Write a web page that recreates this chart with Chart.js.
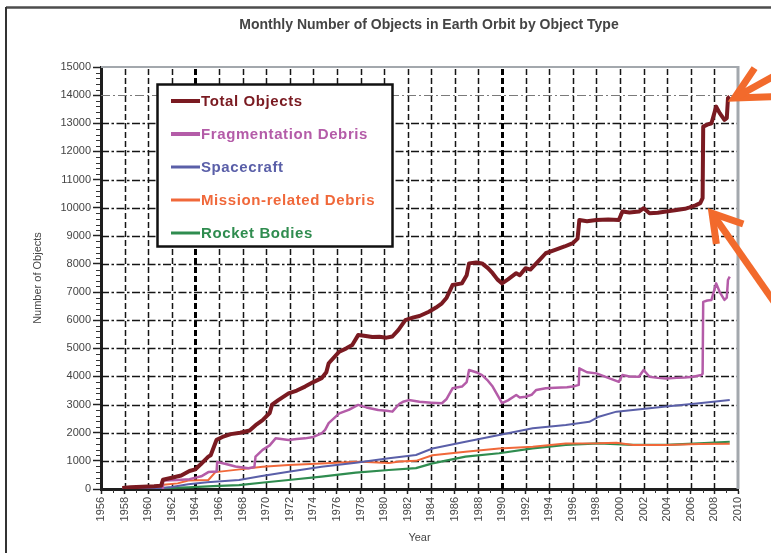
<!DOCTYPE html>
<html>
<head>
<meta charset="utf-8">
<script src="https://cdn.jsdelivr.net/npm/chart.js@4.4.1/dist/chart.umd.min.js"></script>
<style>
  html, body { margin: 0; padding: 0; background: #ffffff; }
  #wrap { width: 771px; height: 553px; position: relative; }
</style>
</head>
<body>
<div id="wrap"><canvas id="orbitChart" width="771" height="553"></canvas></div>
<script>
// ---- Catalogued objects in Earth orbit, by object type (year, count) ----
const totalYears = [1957.8, 1958.5, 1959.5, 1960.5, 1961.1, 1961.25, 1962.0, 1962.8, 1963.5, 1964.0, 1964.5, 1965.1, 1965.3, 1965.8, 1966.3, 1967.0, 1967.8, 1968.6, 1969.2, 1969.7, 1970.3, 1970.5, 1971.0, 1971.9, 1972.6, 1973.3, 1974.0, 1974.7, 1975.1, 1975.3, 1976.2, 1976.8, 1977.3, 1977.8, 1978.3, 1979.0, 1979.6, 1980.2, 1980.7, 1981.2, 1981.8, 1982.5, 1983.0, 1983.8, 1984.4, 1984.9, 1985.3, 1985.8, 1986.6, 1987.0, 1987.2, 1987.8, 1988.3, 1988.8, 1989.2, 1989.6, 1990.0, 1990.5, 1991.2, 1991.5, 1992.0, 1992.4, 1992.9, 1993.3, 1993.7, 1994.5, 1995.3, 1996.0, 1996.4, 1996.55, 1997.2, 1998.0, 1999.0, 1999.9, 2000.2, 2000.8, 2001.6, 2002.0, 2002.5, 2003.2, 2003.9, 2004.8, 2005.5, 2005.9, 2006.4, 2006.8, 2007.0, 2007.05, 2007.4, 2007.75, 2008.15, 2008.45, 2008.85, 2009.05, 2009.15, 2009.3];
const totalCounts = [40, 60, 80, 100, 120, 330, 400, 480, 640, 700, 900, 1150, 1200, 1750, 1850, 1950, 2000, 2080, 2300, 2450, 2700, 3000, 3150, 3400, 3500, 3640, 3800, 3940, 4150, 4470, 4880, 5000, 5120, 5470, 5450, 5400, 5410, 5380, 5420, 5650, 6000, 6100, 6150, 6300, 6450, 6600, 6800, 7250, 7310, 7600, 8020, 8050, 8020, 7850, 7670, 7450, 7310, 7450, 7670, 7600, 7850, 7800, 8020, 8200, 8380, 8500, 8620, 8740, 8900, 9560, 9520, 9560, 9580, 9560, 9860, 9830, 9860, 9980, 9800, 9820, 9860, 9920, 9960, 10010, 10080, 10160, 10340, 12880, 12950, 13000, 13590, 13360, 13120, 13180, 13890, 13950];

const fragYears = [1961.2, 1961.25, 1962.5, 1963.5, 1964.5, 1965.1, 1965.8, 1965.85, 1966.5, 1967.4, 1968.5, 1969.0, 1969.1, 1969.7, 1970.3, 1970.8, 1971.9, 1972.6, 1973.3, 1974.0, 1974.7, 1975.0, 1975.3, 1976.2, 1977.0, 1977.8, 1978.5, 1979.5, 1980.2, 1980.7, 1981.3, 1981.6, 1982.1, 1983.0, 1984.0, 1984.9, 1985.3, 1985.8, 1986.6, 1987.0, 1987.2, 1987.8, 1988.3, 1988.8, 1989.2, 1989.6, 1990.0, 1990.5, 1991.2, 1991.5, 1992.0, 1992.5, 1992.9, 1993.7, 1994.5, 1995.5, 1996.0, 1996.5, 1996.55, 1997.2, 1998.0, 1999.0, 1999.9, 2000.2, 2000.8, 2001.6, 2002.0, 2002.5, 2003.2, 2003.9, 2004.8, 2005.5, 2006.2, 2006.9, 2007.0, 2007.05, 2007.4, 2007.75, 2008.15, 2008.45, 2008.85, 2009.05, 2009.15, 2009.3];
const fragCounts = [0, 300, 320, 350, 450, 600, 620, 960, 900, 800, 740, 780, 1150, 1390, 1550, 1800, 1740, 1780, 1800, 1850, 1980, 2100, 2340, 2690, 2810, 2990, 2900, 2810, 2780, 2750, 3030, 3100, 3160, 3100, 3070, 3050, 3200, 3580, 3640, 3800, 4230, 4150, 4050, 3850, 3640, 3350, 3050, 3150, 3340, 3250, 3280, 3350, 3520, 3580, 3600, 3620, 3640, 3700, 4290, 4150, 4110, 3950, 3810, 4050, 4000, 3990, 4230, 3990, 3950, 3930, 3950, 3960, 3990, 4050, 4100, 6650, 6700, 6720, 7310, 7000, 6720, 6800, 7430, 7550];

const craftYears = [1957.8, 1959.0, 1960.0, 1961.0, 1962.0, 1963.4, 1965.0, 1967.7, 1969.5, 1971.9, 1974.7, 1977.6, 1980.4, 1982.7, 1984.1, 1986.9, 1989.75, 1992.6, 1995.4, 1997.4, 1998.2, 1999.7, 2001.1, 2003.9, 2006.7, 2009.3];
const craftCounts = [2, 5, 15, 30, 70, 170, 240, 320, 450, 610, 790, 935, 1090, 1210, 1440, 1680, 1920, 2160, 2275, 2390, 2570, 2750, 2810, 2930, 3050, 3160];

const missionYears = [1957.8, 1958.5, 1960.5, 1961.2, 1961.3, 1962.5, 1963.4, 1965.1, 1965.7, 1967.4, 1969.7, 1971.9, 1974.7, 1977.6, 1978.5, 1980.4, 1981.3, 1982.7, 1984.1, 1986.9, 1989.75, 1992.6, 1995.4, 1998.2, 1999.7, 2001.1, 2003.9, 2006.7, 2009.3];
const missionCounts = [5, 10, 20, 50, 150, 200, 300, 320, 600, 680, 790, 850, 910, 970, 960, 920, 980, 1000, 1200, 1320, 1440, 1500, 1620, 1625, 1645, 1565, 1565, 1600, 1610];

const rocketYears = [1957.8, 1960.0, 1961.2, 1963.4, 1965.5, 1967.7, 1969.8, 1971.9, 1974.7, 1977.6, 1980.4, 1982.7, 1984.1, 1986.9, 1989.75, 1992.6, 1995.4, 1998.2, 2001.1, 2003.9, 2006.7, 2009.3];
const rocketCounts = [10, 20, 30, 60, 100, 140, 230, 320, 440, 580, 675, 740, 910, 1150, 1270, 1445, 1565, 1625, 1565, 1565, 1625, 1680];

const seriesNames = ['Total Objects', 'Fragmentation Debris', 'Spacecraft', 'Mission-related Debris', 'Rocket Bodies'];

// Axis ranges and tick spacing
const yearMin = 1956, yearMax = 2010, yearStep = 2;
const countMin = 0, countMax = 15000, countStep = 1000, countMinorStep = 200;
const boldYears = [1964, 1990];

// Arrow call-outs anchored in data coordinates (year, count)
const calloutYears = [2009.7, 2007.8];
const calloutCounts = [13900, 9800];

const FONT = '"Liberation Sans", Arial, Helvetica, sans-serif';
const palette = ['#7a1a21', '#b45ca8', '#5a5fa8', '#f0683a', '#2f8c4f'];
const widths = [4, 2.5, 2, 2, 2.2];

function pairs(xs, ys) { return xs.map((x, i) => ({ x: x, y: ys[i] })); }

const seriesData = [
  pairs(totalYears, totalCounts),
  pairs(fragYears, fragCounts),
  pairs(craftYears, craftCounts),
  pairs(missionYears, missionCounts),
  pairs(rocketYears, rocketCounts)
];

const datasets = seriesNames.map((name, i) => ({
  label: name,
  data: seriesData[i],
  borderColor: palette[i],
  backgroundColor: palette[i],
  borderWidth: widths[i],
  pointRadius: 0,
  tension: 0,
  fill: false,
  borderJoinStyle: 'round'
}));

// Sheet frame, chart title, dashed grid, minor ticks, inner legend and arrows
const sheetPlugin = {
  id: 'sheet',
  beforeDraw(chart) {
    const ctx = chart.ctx;
    ctx.save();
    ctx.fillStyle = '#ffffff';
    ctx.fillRect(0, 0, chart.width, chart.height);
    ctx.strokeStyle = '#4d4d4d';
    ctx.lineWidth = 2.5;
    ctx.beginPath();
    ctx.moveTo(6, 7.5);
    ctx.lineTo(chart.width, 7.5);
    ctx.stroke();
    ctx.strokeStyle = '#333333';
    ctx.lineWidth = 2;
    ctx.beginPath();
    ctx.moveTo(6, 7);
    ctx.lineTo(6, chart.height);
    ctx.stroke();

    ctx.fillStyle = '#444444';
    ctx.font = 'bold 14px ' + FONT;
    ctx.textAlign = 'center';
    ctx.textBaseline = 'middle';
    ctx.fillText('Monthly Number of Objects in Earth Orbit by Object Type', 429, 25);
    ctx.restore();
  },
  beforeDatasetsDraw(chart) {
    const ctx = chart.ctx;
    const xs = chart.scales.x, ys = chart.scales.y;
    const a = chart.chartArea;
    ctx.save();
    // horizontal dash-dot grid
    for (let v = countMin + countStep; v < countMax; v += countStep) {
      const y = Math.round(ys.getPixelForValue(v)) + 0.5;
      const top = v === countMax - countStep;
      ctx.strokeStyle = top ? '#7a7a7a' : '#151515';
      ctx.lineWidth = top ? 1 : 1.4;
      ctx.setLineDash(top ? [9, 3, 2, 3] : [8, 2.5, 2.5, 2.5]);
      ctx.beginPath();
      ctx.moveTo(a.left, y);
      ctx.lineTo(a.right, y);
      ctx.stroke();
    }
    // vertical dashed grid
    for (let yr = yearMin + yearStep; yr < yearMax; yr += yearStep) {
      const x = Math.round(xs.getPixelForValue(yr)) + 0.5;
      const heavy = boldYears.includes(yr);
      ctx.strokeStyle = heavy ? '#000000' : '#151515';
      ctx.lineWidth = heavy ? 3 : 1.5;
      ctx.setLineDash([6, 3]);
      ctx.beginPath();
      ctx.moveTo(x, a.bottom);
      ctx.lineTo(x, a.top);
      ctx.stroke();
    }
    ctx.setLineDash([]);
    // minor ticks
    ctx.strokeStyle = '#333333';
    ctx.lineWidth = 1;
    for (let v = countMin + countMinorStep; v < countMax; v += countMinorStep) {
      if (v % countStep === 0) continue;
      const y = Math.round(ys.getPixelForValue(v)) + 0.5;
      ctx.beginPath();
      ctx.moveTo(a.left - 5, y);
      ctx.lineTo(a.left - 1, y);
      ctx.stroke();
    }
    for (let yr = yearMin + 1; yr < yearMax; yr += yearStep) {
      const x = Math.round(xs.getPixelForValue(yr)) + 0.5;
      ctx.beginPath();
      ctx.moveTo(x, a.bottom + 1);
      ctx.lineTo(x, a.bottom + 4);
      ctx.stroke();
    }
    // plot frame (top and right)
    ctx.strokeStyle = '#a3a8ad';
    ctx.lineWidth = 2;
    ctx.beginPath();
    ctx.moveTo(a.left, a.top);
    ctx.lineTo(a.right, a.top);
    ctx.stroke();
    ctx.lineWidth = 3;
    ctx.beginPath();
    ctx.moveTo(a.right, a.top - 1);
    ctx.lineTo(a.right, a.bottom);
    ctx.stroke();
    ctx.restore();
  },
  afterDatasetsDraw(chart) {
    const ctx = chart.ctx;
    ctx.save();
    // legend box inside the plot
    const bx = 157.5, by = 84.5, bw = 235, bh = 162;
    ctx.fillStyle = '#ffffff';
    ctx.fillRect(bx, by, bw, bh);
    ctx.strokeStyle = '#111111';
    ctx.lineWidth = 2.5;
    ctx.strokeRect(bx, by, bw, bh);
    chart.data.datasets.forEach((ds, i) => {
      const cy = 101 + i * 33;
      ctx.strokeStyle = ds.borderColor;
      ctx.lineWidth = i < 2 ? 4 : 3;
      ctx.beginPath();
      ctx.moveTo(171, cy);
      ctx.lineTo(200, cy);
      ctx.stroke();
      ctx.fillStyle = ds.borderColor;
      ctx.font = 'bold 15px ' + FONT;
      if ('letterSpacing' in ctx) ctx.letterSpacing = '0.6px';
      ctx.textAlign = 'left';
      ctx.textBaseline = 'middle';
      ctx.fillText(ds.label, 201, cy + 1);
      if ('letterSpacing' in ctx) ctx.letterSpacing = '0px';
    });
    ctx.restore();
  },
  afterDraw(chart) {
    const ctx = chart.ctx;
    const xs = chart.scales.x, ys = chart.scales.y;
    const shapes = [
      { shaft: -29, len: 60, arms: [[-56, 36], [-2, 38]] },
      { shaft: 55, len: 130, arms: [[19, 33], [82, 31]] }
    ];
    ctx.save();
    ctx.strokeStyle = '#f26a2c';
    ctx.lineWidth = 7;
    ctx.lineCap = 'butt';
    ctx.lineJoin = 'miter';
    calloutYears.forEach((yr, i) => {
      const tx = xs.getPixelForValue(yr);
      const ty = ys.getPixelForValue(calloutCounts[i]);
      const s = shapes[i];
      const rad = d => d * Math.PI / 180;
      ctx.beginPath();
      ctx.moveTo(tx + Math.cos(rad(s.arms[0][0])) * s.arms[0][1], ty + Math.sin(rad(s.arms[0][0])) * s.arms[0][1]);
      ctx.lineTo(tx, ty);
      ctx.lineTo(tx + Math.cos(rad(s.arms[1][0])) * s.arms[1][1], ty + Math.sin(rad(s.arms[1][0])) * s.arms[1][1]);
      ctx.stroke();
      ctx.beginPath();
      ctx.moveTo(tx + Math.cos(rad(s.shaft)) * 4, ty + Math.sin(rad(s.shaft)) * 4);
      ctx.lineTo(tx + Math.cos(rad(s.shaft)) * s.len, ty + Math.sin(rad(s.shaft)) * s.len);
      ctx.stroke();
    });
    ctx.restore();
  }
};

new Chart(document.getElementById('orbitChart'), {
  type: 'line',
  data: { datasets: datasets },
  plugins: [sheetPlugin],
  options: {
    responsive: false,
    animation: false,
    devicePixelRatio: 1,
    layout: { padding: { left: 0, right: 33, top: 67, bottom: 0 } },
    plugins: {
      legend: { display: false },
      title: { display: false },
      tooltip: { enabled: false }
    },
    scales: {
      x: {
        type: 'linear',
        min: yearMin,
        max: yearMax,
        afterFit: s => { s.height = 64; },
        ticks: {
          stepSize: yearStep,
          autoSkip: false,
          maxRotation: 90,
          minRotation: 90,
          padding: 3,
          color: '#444444',
          font: { family: FONT, size: 11 },
          callback: v => String(v)
        },
        grid: { drawOnChartArea: false, drawTicks: true, tickLength: 5, tickColor: '#222222', tickWidth: 1.5 },
        border: { display: true, color: '#1e1e1e', width: 3 },
        title: { display: true, text: 'Year', color: '#444444', font: { family: FONT, size: 11 }, padding: { top: 0, bottom: 8 } }
      },
      y: {
        type: 'linear',
        min: countMin,
        max: countMax,
        afterFit: s => { s.width = 101; },
        ticks: {
          stepSize: countStep,
          padding: 2,
          color: '#444444',
          font: { family: FONT, size: 11 },
          callback: v => String(v)
        },
        grid: { drawOnChartArea: false, drawTicks: true, tickLength: 8, tickColor: '#222222', tickWidth: 1.5 },
        border: { display: true, color: '#1e1e1e', width: 3 },
        title: { display: true, text: 'Number of Objects', color: '#444444', font: { family: FONT, size: 11 }, padding: { top: 31, bottom: 0 } }
      }
    }
  }
});
</script>
</body>
</html>
